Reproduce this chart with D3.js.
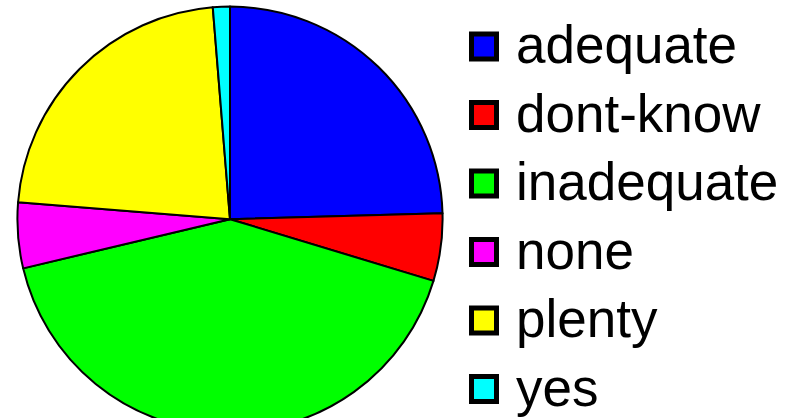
<!DOCTYPE html>
<html><head><meta charset="utf-8">
<script src="https://cdn.jsdelivr.net/npm/d3@7"></script>
<style>html,body{margin:0;padding:0;background:#fff;}svg{display:block;}</style>
</head><body>
<svg id="chart" width="800" height="418"></svg>
<script>
const categories = ["adequate","dont-know","inadequate","none","plenty","yes"];
const values = [24.56, 5.12, 41.6, 4.98, 22.44, 1.29];
const colors = ["#0000ff","#ff0000","#00ff00","#ff00ff","#ffff00","#00ffff"];

const svg = d3.select("#chart");
const cx = 230, cy = 219.2, r = 212.6;
const data = categories.map((c,i)=>({cat:c,val:values[i],col:colors[i]}));
const pie = d3.pie().value(d=>d.val).sort(null);
const arc = d3.arc().innerRadius(0).outerRadius(r);
const g = svg.append("g").attr("transform",`translate(${cx},${cy})`);
g.selectAll("path").data(pie(data)).enter().append("path")
  .attr("d",arc).attr("fill",d=>d.data.col)
  .attr("stroke","#000").attr("stroke-width",2).attr("stroke-linejoin","round");

const legendY = d3.scalePoint().domain(categories).range([46.5, 389]);
const lg = svg.append("g");
const items = lg.selectAll("g").data(data).enter().append("g")
  .attr("transform",d=>`translate(0,${legendY(d.cat)})`);
items.append("rect").attr("x",471.5).attr("y",-12.5).attr("width",25).attr("height",25)
  .attr("fill",d=>d.col).attr("stroke","#000").attr("stroke-width",5);
items.append("text").attr("x",516).attr("y",16.5)
  .attr("font-family","Liberation Sans, Arial, sans-serif").attr("font-size",53)
  .attr("fill","#000").text(d=>d.cat);
</script>
</body></html>
